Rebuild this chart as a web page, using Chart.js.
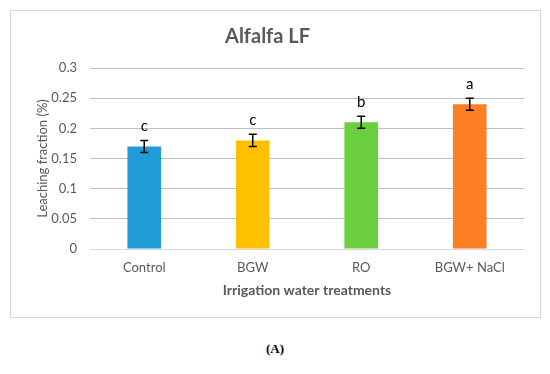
<!DOCTYPE html>
<html lang="en">
<head>
  <meta charset="UTF-8" />
  <title>Alfalfa LF</title>
  <script src="https://cdn.jsdelivr.net/npm/chart.js"></script>
  <style>
    body { margin: 0; background: #fff; width: 550px; height: 374px; position: relative; }
    .box { position: absolute; left: 10px; top: 10px; width: 529px; height: 306px; border: 1px solid #d9d9d9; }
    .caption { position: absolute; left: 0; top: 341px; width: 550px; text-align: center;
      font-family: "Liberation Serif", serif; font-weight: bold; font-size: 13px; }
  </style>
</head>
<body>
  <div class="box"><canvas id="chart" width="529" height="306"></canvas></div>
  <div class="caption">(A)</div>

  <script>
    const categories = ["Control", "BGW", "RO", "BGW+ NaCl"];
    const values = [0.17, 0.18, 0.21, 0.24];
    const errors = [0.01, 0.01, 0.01, 0.01];
    const letters = ["c", "c", "b", "a"];
    const colors = ["#1f9bd7", "#ffc000", "#6ccf3f", "#ff7f27"];
    const font = "Lato, 'Open Sans', sans-serif";

    // error bars + significance letters
    const extras = {
      id: "extras",
      afterDatasetsDraw(chart) {
        const ctx = chart.ctx;
        const y = chart.scales.y;
        const meta = chart.getDatasetMeta(0);
        ctx.save();
        ctx.strokeStyle = "#000";
        ctx.lineWidth = 1.5;
        meta.data.forEach((bar, i) => {
          const top = y.getPixelForValue(values[i] + errors[i]);
          const bot = y.getPixelForValue(values[i] - errors[i]);
          const x = bar.x;
          ctx.beginPath();
          ctx.moveTo(x, top); ctx.lineTo(x, bot);
          ctx.moveTo(x - 4, top); ctx.lineTo(x + 4, top);
          ctx.moveTo(x - 4, bot); ctx.lineTo(x + 4, bot);
          ctx.stroke();
          ctx.fillStyle = "#000";
          ctx.font = "15px " + font;
          ctx.textAlign = "center";
          ctx.textBaseline = "bottom";
          ctx.fillText(letters[i], x, top - 7);
        });
        ctx.restore();
      }
    };

    new Chart(document.getElementById("chart"), {
      type: "bar",
      data: {
        labels: categories,
        datasets: [{
          data: values,
          backgroundColor: colors,
          barPercentage: 0.31,
          categoryPercentage: 1
        }]
      },
      options: {
        responsive: false,
        animation: false,
        layout: { padding: { left: 0, right: 16, top: 0, bottom: 18 } },
        plugins: {
          legend: { display: false },
          tooltip: { enabled: false },
          title: {
            display: true,
            text: "Alfalfa LF",
            color: "#595959",
            font: { family: font, size: 20, weight: "bold" },
            padding: { top: 14, bottom: 19 }
          }
        },
        scales: {
          x: {
            grid: { display: false, drawTicks: false },
            border: { color: "#d9d9d9" },
            ticks: { color: "#595959", font: { family: font, size: 13 }, padding: 11 },
            title: {
              display: true,
              text: "Irrigation water treatments",
              color: "#595959",
              font: { family: font, size: 14, weight: "bold" },
              padding: { top: 4, bottom: 0 }
            },
            afterFit: s => { s.height = 50; }
          },
          y: {
            min: 0,
            max: 0.3,
            grid: { color: "#bfbfbf", drawTicks: false },
            border: { display: false },
            ticks: {
              stepSize: 0.05,
              color: "#595959",
              font: { family: font, size: 13 },
              padding: 13,
              callback: v => +v.toFixed(2)
            },
            title: {
              display: true,
              text: "Leaching fraction (%)",
              color: "#595959",
              font: { family: font, size: 13 },
              padding: { top: 24, bottom: 0 }
            },
            afterFit: s => { s.width = 79; }
          }
        }
      },
      plugins: [extras]
    });
  </script>
</body>
</html>
